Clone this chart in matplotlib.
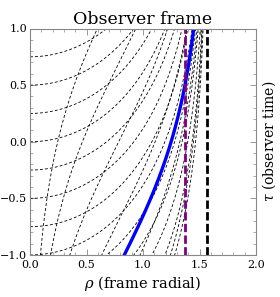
import numpy as np
import matplotlib
matplotlib.use("Agg")
import matplotlib.pyplot as plt
from matplotlib.ticker import MultipleLocator

# --- data -------------------------------------------------------------
# grid of the other frame, mapped into observer frame
t_values = [0.75, 0.5, 0.25, 0.0, -0.25, -0.5, -0.75, -1.0,
            -1.25, -1.5, -1.75, -2.0, -2.25]          # constant-time curves
c_values = [0.25, 0.5, 1.0, 2.0, 4.0, 8.0]            # constant-radius curves
blue_c = 3.0                                          # highlighted worldline
purple_rho = 1.37                                     # purple radius
boundary_rho = np.pi / 2                              # boundary
x_ticks = [0.0, 0.5, 1.0, 1.5, 2.0]
y_ticks = [-1.0, -0.5, 0.0, 0.5, 1.0]

plt.rcParams['font.family'] = ['DejaVu Serif']
plt.rcParams['mathtext.fontset'] = 'dejavuserif'

fig = plt.figure(figsize=(2.80, 2.97), dpi=100)
ax = fig.add_axes([30/280, 1-255/297, 226/280, 226.5/297])

rho = np.linspace(0, boundary_rho - 1e-4, 2000)
for t in t_values:
    tau = t - np.log(np.cos(rho))
    ax.plot(rho, tau, color='black', lw=0.6, ls=(0, (3.5, 2.5)))

tau_s = np.linspace(-1.05, 1.05, 400)
for c in c_values:
    ax.plot(np.arctan(c*np.exp(tau_s)), tau_s, color='black', lw=0.6, ls=(0, (3.5, 2.5)))

ax.plot(np.arctan(blue_c*np.exp(tau_s)), tau_s, color=(0, 0, 1), lw=2.4, solid_capstyle='butt')
ax.axvline(purple_rho, color=(0.5, 0, 0.5), lw=2.0, ls=(0, (3, 1.2)))
ax.axvline(boundary_rho, color='black', lw=2.0, ls=(0, (3, 1.2)))

ax.set_xlim(0, 2)
ax.set_ylim(-1, 1)
ax.set_xticks(x_ticks)
ax.set_yticks(y_ticks)
ax.set_xticklabels([f"{v:.1f}" for v in x_ticks])
ax.set_yticklabels([f"{v:.1f}".replace('-', '\u2212') for v in y_ticks])
ax.xaxis.set_minor_locator(MultipleLocator(0.1))
ax.yaxis.set_minor_locator(MultipleLocator(0.1))
ax.tick_params(which='both', direction='in', top=True, right=True,
               color='#888888', labelsize=8, pad=2)
ax.tick_params(axis='x', which='major', pad=3.5)
ax.tick_params(which='major', length=4, width=0.6)
ax.tick_params(which='minor', length=2, width=0.5)
for s in ax.spines.values():
    s.set_color('#888888')
    s.set_linewidth(0.8)

ax.set_title("Observer frame", fontsize=12.5, pad=3)
ax.set_xlabel(r"$\rho$ (frame radial)", fontsize=10.5, labelpad=3)
ax.yaxis.set_label_position('right')
ax.set_ylabel(r"$\tau$ (observer time)", fontsize=10, labelpad=3, rotation=90)

fig.savefig("out.png", dpi=100)
